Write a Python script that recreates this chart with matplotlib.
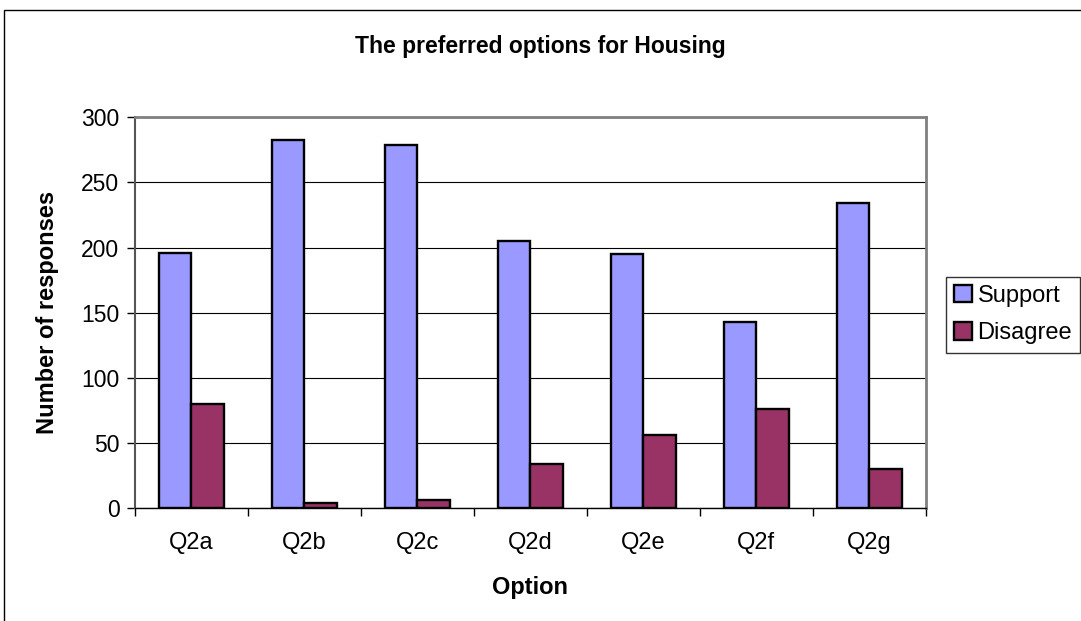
import matplotlib
matplotlib.use("Agg")
import matplotlib.pyplot as plt
import numpy as np
from matplotlib.patches import Rectangle

plt.rcParams['font.family'] = ['Liberation Sans', 'DejaVu Sans']

categories = ["Q2a", "Q2b", "Q2c", "Q2d", "Q2e", "Q2f", "Q2g"]
support = [196, 283, 279, 205, 195, 143, 234]
disagree = [80, 4, 6, 34, 56, 76, 30]
yticks = [0, 50, 100, 150, 200, 250, 300]

fig = plt.figure(figsize=(10.81, 6.21), dpi=100)
ax = fig.add_axes([0.1246, 0.182, 0.8563 - 0.1246, 0.811 - 0.182])

x = np.arange(len(categories))
w = 0.2876
ax.bar(x - w / 2, support, w, color="#9999FF", edgecolor="black", linewidth=1.7,
       label="Support", zorder=3)
ax.bar(x + w / 2, disagree, w, color="#993366", edgecolor="black", linewidth=1.7,
       label="Disagree", zorder=3)

ax.set_xlim(-0.5, len(categories) - 0.5)
ax.set_ylim(0, 300)
ax.set_yticks(yticks)
ax.set_yticklabels([str(v) for v in yticks], fontsize=16.5)
ax.set_xticks(x)
ax.set_xticklabels(categories, fontsize=17)
ax.tick_params(axis='x', length=0, pad=17)
ax.set_xticks(np.arange(-0.5, len(categories), 1), minor=True)
ax.tick_params(axis='x', which='minor', length=6, width=1, direction='out')
ax.tick_params(axis='y', length=6, width=1, direction='out', pad=5)

ax.yaxis.grid(True, color="black", linewidth=0.8, zorder=0)
ax.set_axisbelow(True)

for s in ['top', 'right']:
    ax.spines[s].set_color("#808080")
    ax.spines[s].set_linewidth(2)
ax.spines['left'].set_color("#555555")
ax.spines['left'].set_linewidth(1.5)
ax.spines['bottom'].set_color("black")
ax.spines['bottom'].set_linewidth(1)

ax.set_ylabel("Number of responses", fontsize=17, fontweight='bold', labelpad=16)
ax.set_xlabel("Option", fontsize=17, fontweight='bold', labelpad=16)
fig.text(0.5, 1 - 46 / 621, "The preferred options for Housing", ha='center', va='center',
         fontsize=16.5, fontweight='bold')

leg = fig.legend(loc='upper left', bbox_to_anchor=(945.7 / 1081, 1 - 276.7 / 621),
                 fontsize=17, frameon=True, fancybox=False, edgecolor="black",
                 handlelength=0.75, handleheight=0.75, handletextpad=0.25,
                 borderpad=0.35, labelspacing=0.65, borderaxespad=0)
leg.get_frame().set_linewidth(1)

border = Rectangle((4 / 1081, -0.05), 1.1, 1.05 - 9.5 / 621, transform=fig.transFigure,
                   fill=False, edgecolor="black", linewidth=1, clip_on=False)
fig.patches.append(border)

fig.savefig("out.png", dpi=100)
